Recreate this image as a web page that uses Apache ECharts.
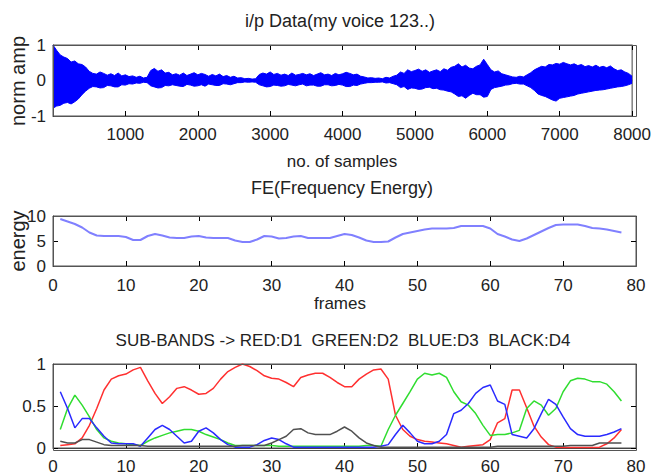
<!DOCTYPE html>
<html>
<head>
<meta charset="utf-8">
<script src="https://cdn.jsdelivr.net/npm/echarts@6/dist/echarts.min.js"></script>
<style>
  html, body { margin: 0; padding: 0; background: #fff; }
  #chart { width: 654px; height: 475px; }
</style>
</head>
<body>
<div id="chart"></div>
<script>
// envelope of the voice waveform, one value every 50 samples (0..8000)
const WAVE_UPPER = [
  1.0, 0.85, 0.72, 0.66, 0.62, 0.52, 0.55, 0.47, 0.45, 0.38, 0.26, 0.20, 0.18, 0.24, 0.20, 0.15, 0.19, 0.14, 0.21, 0.13,
  0.16, 0.11, 0.13, 0.09, 0.12, 0.07, 0.09, 0.28, 0.34, 0.26, 0.30, 0.21, 0.23, 0.16, 0.19, 0.15, 0.21, 0.14, 0.18, 0.22,
  0.16, 0.20, 0.17, 0.12, 0.17, 0.13, 0.18, 0.11, 0.14, 0.09, 0.12, 0.07, 0.08, 0.05, 0.06, 0.04, 0.05, 0.17, 0.21, 0.18,
  0.24, 0.17, 0.20, 0.15, 0.18, 0.14, 0.21, 0.15, 0.17, 0.20, 0.16, 0.19, 0.14, 0.18, 0.22, 0.16, 0.18, 0.14, 0.20, 0.16,
  0.19, 0.23, 0.20, 0.16, 0.18, 0.12, 0.10, 0.07, 0.08, 0.06, 0.07, 0.05, 0.09, 0.07, 0.12, 0.15, 0.24, 0.20, 0.30, 0.25,
  0.28, 0.32, 0.26, 0.30, 0.23, 0.27, 0.30, 0.25, 0.33, 0.29, 0.37, 0.40, 0.47, 0.38, 0.43, 0.35, 0.33, 0.40, 0.44, 0.60,
  0.45, 0.30, 0.24, 0.27, 0.19, 0.16, 0.13, 0.10, 0.09, 0.12, 0.10, 0.16, 0.22, 0.30, 0.35, 0.40, 0.38, 0.45, 0.44, 0.48,
  0.46, 0.51, 0.47, 0.44, 0.47, 0.42, 0.45, 0.39, 0.42, 0.38, 0.43, 0.37, 0.40, 0.36, 0.41, 0.33, 0.28, 0.30, 0.24, 0.20,
  0.12];
const WAVE_LOWER = [
  -0.78, -0.72, -0.70, -0.64, -0.62, -0.66, -0.60, -0.52, -0.40, -0.30, -0.22, -0.17, -0.18, -0.21, -0.20, -0.14, -0.15, -0.18, -0.18, -0.12,
  -0.13, -0.09, -0.10, -0.07, -0.08, -0.05, -0.06, -0.15, -0.18, -0.21, -0.20, -0.14, -0.15, -0.12, -0.14, -0.16, -0.17, -0.11, -0.13, -0.16,
  -0.15, -0.12, -0.16, -0.10, -0.12, -0.14, -0.14, -0.09, -0.10, -0.12, -0.09, -0.06, -0.06, -0.04, -0.05, -0.04, -0.05, -0.12, -0.15, -0.18,
  -0.17, -0.13, -0.14, -0.16, -0.15, -0.11, -0.13, -0.15, -0.12, -0.10, -0.15, -0.13, -0.13, -0.16, -0.16, -0.12, -0.12, -0.15, -0.14, -0.11,
  -0.13, -0.17, -0.17, -0.13, -0.14, -0.10, -0.08, -0.06, -0.06, -0.05, -0.05, -0.04, -0.07, -0.06, -0.09, -0.12, -0.20, -0.17, -0.25, -0.21,
  -0.22, -0.25, -0.24, -0.20, -0.19, -0.23, -0.22, -0.26, -0.27, -0.30, -0.32, -0.38, -0.45, -0.43, -0.50, -0.42, -0.36, -0.40, -0.40, -0.47,
  -0.45, -0.25, -0.20, -0.18, -0.16, -0.13, -0.12, -0.09, -0.08, -0.10, -0.10, -0.15, -0.20, -0.28, -0.38, -0.42, -0.45, -0.50, -0.55, -0.58,
  -0.50, -0.48, -0.46, -0.44, -0.42, -0.38, -0.36, -0.34, -0.32, -0.30, -0.28, -0.27, -0.26, -0.24, -0.22, -0.20, -0.18, -0.17, -0.15, -0.12,
  -0.08];
const SAMPLES = WAVE_UPPER.map((_, i) => i * 50);

// frequency energy, frames 1..78
const ENERGY = [9.4, 8.9, 8.4, 7.7, 6.7, 6.1, 6.0, 6.0, 6.0, 5.8,
  5.2, 5.2, 6.0, 6.4, 6.1, 5.7, 5.6, 5.6, 5.9, 6.0,
  5.7, 5.6, 5.6, 5.6, 5.1, 4.8, 4.8, 5.3, 6.0, 5.9,
  5.5, 5.6, 5.9, 6.0, 5.6, 5.6, 5.6, 5.6, 6.0, 6.4,
  6.2, 5.7, 5.1, 4.8, 4.8, 4.9, 5.7, 6.4, 6.7, 7.0,
  7.3, 7.5, 7.5, 7.5, 7.6, 8.0, 8.0, 8.0, 8.0, 7.5,
  6.4, 5.9, 5.3, 5.0, 5.5, 6.2, 6.9, 7.6, 8.2, 8.3,
  8.3, 8.3, 8.0, 7.6, 7.5, 7.3, 7.0, 6.7];

// sub-band energies D1..D4, frames 1..78
const D1_RED = [0.03, 0.04, 0.05, 0.12, 0.27, 0.47, 0.69, 0.82, 0.86, 0.88,
  0.93, 0.96, 0.80, 0.65, 0.53, 0.61, 0.71, 0.73, 0.69, 0.64,
  0.65, 0.71, 0.82, 0.91, 0.96, 1.0, 0.97, 0.92, 0.86, 0.83,
  0.82, 0.78, 0.73, 0.84, 0.87, 0.89, 0.89, 0.84, 0.78, 0.73,
  0.73, 0.82, 0.88, 0.93, 0.94, 0.82, 0.39, 0.22, 0.14, 0.10,
  0.08, 0.07, 0.06, 0.05, 0.03, 0.01, 0.02, 0.03, 0.04, 0.10,
  0.30, 0.35, 0.69, 0.69, 0.48, 0.26, 0.13, 0.04, 0.01, 0.005,
  0.005, 0.005, 0.005, 0.005, 0.01, 0.05, 0.12, 0.22];
const D2_GREEN = [0.22, 0.47, 0.63, 0.51, 0.37, 0.22, 0.12, 0.08, 0.06, 0.05,
  0.04, 0.03, 0.08, 0.12, 0.15, 0.18, 0.20, 0.22, 0.22, 0.20,
  0.16, 0.13, 0.10, 0.06, 0.03, 0.03, 0.03, 0.03, 0.03, 0.03,
  0.02, 0.02, 0.02, 0.02, 0.02, 0.02, 0.02, 0.02, 0.02, 0.02,
  0.02, 0.02, 0.03, 0.03, 0.02, 0.22, 0.39, 0.53, 0.67, 0.82,
  0.89, 0.87, 0.89, 0.84, 0.67, 0.55, 0.51, 0.41, 0.27, 0.15,
  0.16, 0.16, 0.18, 0.21, 0.47, 0.56, 0.51, 0.39, 0.47, 0.67,
  0.80, 0.83, 0.82, 0.79, 0.79, 0.76, 0.67, 0.56];
const D3_BLUE = [0.67, 0.47, 0.24, 0.35, 0.35, 0.24, 0.14, 0.06, 0.05, 0.05,
  0.05, 0.02, 0.12, 0.22, 0.27, 0.22, 0.14, 0.06, 0.08, 0.20,
  0.24, 0.18, 0.10, 0.04, 0.01, 0.01, 0.01, 0.04, 0.09, 0.12,
  0.10, 0.05, 0.01, 0.01, 0.01, 0.01, 0.01, 0.01, 0.01, 0.01,
  0.01, 0.01, 0.01, 0.01, 0.02, 0.04, 0.16, 0.27, 0.18, 0.08,
  0.05, 0.05, 0.08, 0.16, 0.41, 0.45, 0.53, 0.65, 0.72, 0.75,
  0.56, 0.52, 0.16, 0.14, 0.12, 0.23, 0.41, 0.58, 0.52, 0.37,
  0.23, 0.16, 0.14, 0.14, 0.14, 0.16, 0.19, 0.23];
const D4_BLACK = [0.08, 0.06, 0.06, 0.10, 0.10, 0.07, 0.04, 0.03, 0.03, 0.03,
  0.03, 0.03, 0.02, 0.02, 0.02, 0.02, 0.02, 0.02, 0.02, 0.02,
  0.02, 0.02, 0.02, 0.02, 0.02, 0.03, 0.03, 0.03, 0.03, 0.06,
  0.10, 0.14, 0.22, 0.23, 0.18, 0.16, 0.16, 0.16, 0.20, 0.25,
  0.20, 0.12, 0.06, 0.03, 0.01, 0.01, 0.01, 0.01, 0.01, 0.01,
  0.01, 0.01, 0.01, 0.01, 0.01, 0.01, 0.01, 0.01, 0.01, 0.01,
  0.02, 0.02, 0.02, 0.02, 0.02, 0.02, 0.02, 0.02, 0.02, 0.02,
  0.03, 0.03, 0.03, 0.03, 0.06, 0.06, 0.06, 0.06];
const FRAMES = ENERGY.map((_, i) => i + 1);

const FONT = 'Liberation Sans';
const TXT = '#222';

const GRIDS = [
  { left: 53, top: 45, width: 583, height: 71 },
  { left: 53, top: 216, width: 583, height: 50 },
  { left: 53, top: 364, width: 583, height: 86 },
];

const TICK = { show: true, inside: true, length: 5, lineStyle: { color: '#000', width: 1 } };

function xAxes(gridIndex, max, interval, margin, hideMin) {
  return [
    {
      gridIndex, type: 'value', min: 0, max, interval, position: 'bottom',
      splitLine: { show: false }, axisTick: TICK,
      axisLine: { show: true, onZero: false, lineStyle: { color: '#444', width: 1 } },
      axisLabel: {
        show: true, color: TXT, fontSize: 17, fontFamily: FONT, margin,
        showMinLabel: !hideMin, formatter: v => String(v),
      },
    },
    {
      gridIndex, type: 'value', min: 0, max, interval, position: 'top',
      splitLine: { show: false }, axisTick: TICK,
      axisLine: { show: true, onZero: false, lineStyle: { color: '#888', width: 1 } },
      axisLabel: { show: false },
    },
  ];
}

function yAxes(gridIndex, min, max, interval) {
  return [
    {
      gridIndex, type: 'value', min, max, interval, position: 'left',
      splitLine: { show: false }, axisTick: TICK,
      axisLine: { show: true, onZero: false, lineStyle: { color: '#444', width: 1 } },
      axisLabel: { show: true, color: TXT, fontSize: 17, fontFamily: FONT, margin: 7, formatter: v => String(v) },
    },
    {
      gridIndex, type: 'value', min, max, interval, position: 'right',
      splitLine: { show: false }, axisTick: TICK,
      axisLine: { show: true, onZero: false, lineStyle: { color: '#888', width: 1 } },
      axisLabel: { show: false },
    },
  ];
}

function label(text, x, y, size, rotate) {
  return {
    type: 'text', x, y, rotation: rotate || 0,
    style: {
      text, fill: TXT, font: size + 'px ' + FONT,
      textAlign: 'center', textVerticalAlign: 'middle',
    },
  };
}

// plain box round each plot, in case the axis lines are not drawn
function frame(g) {
  return {
    type: 'rect', z: 50, silent: true,
    shape: { x: g.left + 0.5, y: g.top + 0.5, width: g.width, height: g.height },
    style: { fill: 'none', stroke: '#555', lineWidth: 1 },
  };
}

function bandLine(data, color) {
  return {
    type: 'line', xAxisIndex: 4, yAxisIndex: 4,
    data: FRAMES.map((f, i) => [f, data[i]]),
    showSymbol: false, lineStyle: { color, width: 1.5 },
  };
}

// each half is filled a little past the zero line so the two halves overlap
function waveHalf(env, origin) {
  return {
    type: 'line', xAxisIndex: 0, yAxisIndex: 0,
    data: SAMPLES.map((s, i) => [s, env[i]]),
    showSymbol: false,
    lineStyle: { color: '#0000ff', width: 1 },
    areaStyle: { color: '#0000ff', opacity: 1, origin },
  };
}

const chart = echarts.init(document.getElementById('chart'), null, { renderer: 'svg' });
chart.setOption({
  animation: false,
  grid: GRIDS.map(g => Object.assign({ show: true, borderColor: '#555', borderWidth: 1 }, g)),
  xAxis: [
    ...xAxes(0, 8000, 1000, 10, true),
    ...xAxes(1, 80, 10, 11, false),
    ...xAxes(2, 80, 10, 10, false),
  ],
  yAxis: [
    ...yAxes(0, -1, 1, 1),
    ...yAxes(1, 0, 10, 5),
    ...yAxes(2, 0, 1, 0.5),
  ],
  graphic: [
    ...GRIDS.map(frame),
    label('i/p Data(my voice 123..)', 340, 21, 18),
    label('no. of samples', 342, 161, 17),
    label('norm amp', 18, 81, 20, Math.PI / 2),
    label('FE(Frequency Energy)', 342, 188, 18),
    label('frames', 340, 303, 17),
    label('energy', 18, 241, 20, Math.PI / 2),
    label('SUB-BANDS -> RED:D1  GREEN:D2  BLUE:D3  BLACK:D4', 343, 340, 17),
  ],
  series: [
    waveHalf(WAVE_UPPER, -0.04),
    waveHalf(WAVE_LOWER, 0.04),
    {
      type: 'line', xAxisIndex: 2, yAxisIndex: 2,
      data: FRAMES.map((f, i) => [f, ENERGY[i]]),
      showSymbol: false,
      lineStyle: { color: '#8080ff', width: 2 },
    },
    bandLine(D1_RED, '#ff3030'),
    bandLine(D2_GREEN, '#30dd30'),
    bandLine(D3_BLUE, '#2a2aff'),
    bandLine(D4_BLACK, '#505050'),
  ],
});
</script>
</body>
</html>
